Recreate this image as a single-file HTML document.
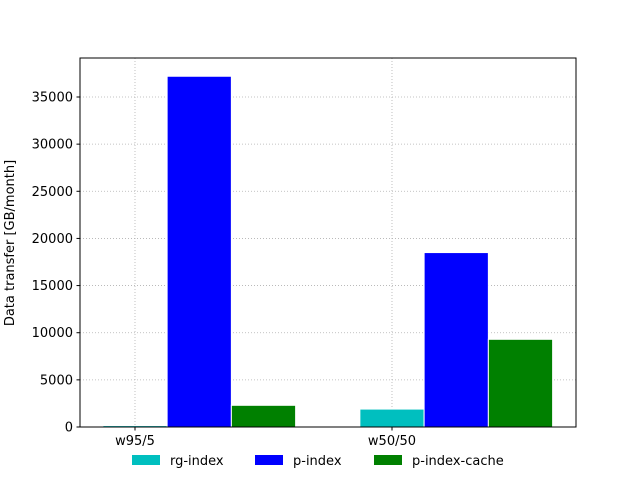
<!DOCTYPE html>
<html><head><meta charset="utf-8"><style>
body{margin:0;background:#fff;}
svg text{font-family:"DejaVu Sans","Liberation Sans",sans-serif;font-size:13px;fill:#000;}
</style></head><body>
<svg id="chart" width="640" height="480"></svg>
<script>
const categories = ["w95/5", "w50/50"];
const seriesNames = ["rg-index", "p-index", "p-index-cache"];
const seriesColors = ["#00bfbf", "#0000ff", "#008000"];
const rgIndex = [150, 1900];
const pIndex = [37200, 18500];
const pIndexCache = [2300, 9300];
const yTicks = [0, 5000, 10000, 15000, 20000, 25000, 30000, 35000];
const series = [rgIndex, pIndex, pIndexCache];

const NS = "http://www.w3.org/2000/svg";
const svg = document.getElementById("chart");
const L = 80, R = 576, T = 58, B = 427;
const xMin = -0.214, xMax = 1.716;
const barW = 0.25;
function xs(v){ return L + (v - xMin) / (xMax - xMin) * (R - L); }
function ys(v){ return B - v / 35000 * 330; }
function mk(tag, attrs, parent){
  const e = document.createElementNS(NS, tag);
  for (const k in attrs) e.setAttribute(k, attrs[k]);
  (parent || svg).appendChild(e);
  return e;
}
yTicks.forEach(t => {
  const g = mk("line", {x1: L, x2: R, y1: ys(t), y2: ys(t), stroke: "#b0b0b0", "stroke-width": 0.8, "stroke-dasharray": "1,2"});
  
  
});
categories.forEach((c, i) => {
  const g = mk("line", {x1: xs(i), x2: xs(i), y1: T, y2: B, stroke: "#b0b0b0", "stroke-width": 0.8, "stroke-dasharray": "1,2"});
  
  
});
series.forEach((s, si) => {
  s.forEach((v, ci) => {
    const x0 = xs(ci + si * barW - barW / 2), x1 = xs(ci + si * barW + barW / 2);
    const r = mk("rect", {x: x0, y: ys(v), width: x1 - x0, height: B - ys(v), fill: seriesColors[si], stroke: "#fff", "stroke-width": 1});
    
    
  });
});
const fr = mk("rect", {x: L, y: T, width: R - L, height: B - T, fill: "none", stroke: "#000", "stroke-width": 1});


yTicks.forEach(t => {
  mk("line", {x1: L - 3.5, x2: L, y1: ys(t), y2: ys(t), stroke: "#000"});
  const tx = mk("text", {x: L - 7, y: ys(t) + 4.5, "text-anchor": "end"});
  tx.textContent = t;
  
  
});
categories.forEach((c, i) => {
  mk("line", {x1: xs(i), x2: xs(i), y1: B, y2: B + 3.5, stroke: "#000"});
  const tx = mk("text", {x: xs(i), y: B + 18, "text-anchor": "middle"});
  tx.textContent = c;
  
  
});
const yt = mk("text", {x: 14, y: 243, "text-anchor": "middle", transform: "rotate(-90 14 243)"});
yt.textContent = "Data transfer [GB/month]";


const lx = [132, 255, 374];
seriesNames.forEach((n, i) => {
  const g = mk("g", {});
  
  
  mk("rect", {x: lx[i], y: 455, width: 28, height: 10, fill: seriesColors[i]}, g);
  const t = mk("text", {x: lx[i] + 38, y: 465}, g);
  t.textContent = n;
});
</script>
</body></html>
